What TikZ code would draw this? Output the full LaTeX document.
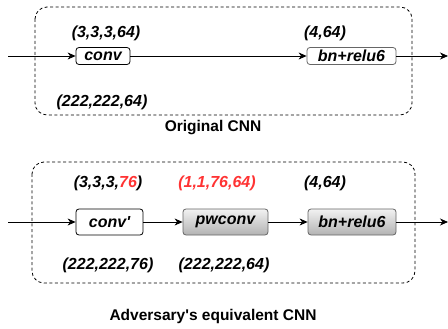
\documentclass[tikz,border=0pt]{standalone}
\usepackage{fontspec}
\setmainfont{Liberation Sans}
\usetikzlibrary{arrows.meta}
\definecolor{redlbl}{HTML}{FF3333}
\tikzset{
  lbl/.style={font=\fontsize{16}{18}\selectfont\bfseries\itshape, inner sep=0pt, anchor=center},
  ttl/.style={font=\fontsize{15.5}{18}\selectfont\bfseries, inner sep=0pt, anchor=center},
  wbox/.style={draw=black, line width=0.8pt, fill=white, rounded corners=3pt, inner sep=0pt,
    font=\fontsize{16}{18}\selectfont\bfseries\itshape},
  gbox/.style={draw=black!60, line width=0.8pt, rounded corners=3pt, inner sep=0pt,
    top color=black!5, bottom color=black!30,
    font=\fontsize{16}{18}\selectfont\bfseries\itshape},
  gwbox/.style={draw=black!60, line width=0.8pt, fill=white, rounded corners=3pt, inner sep=0pt,
    font=\fontsize{16}{18}\selectfont\bfseries\itshape},
  grp/.style={draw=black, line width=0.8pt, dash pattern=on 3pt off 2.5pt, rounded corners=12pt},
  arr/.style={line width=0.8pt, -{Stealth[length=8pt,width=7pt,inset=2.5pt]}},
}
\begin{document}
\begin{tikzpicture}[x=1pt,y=-1pt]
\useasboundingbox (0,0) rectangle (448,329);
% top group
\draw[grp] (35,7) rectangle (412,115);
\node[wbox, minimum width=54pt, minimum height=17pt] (conv) at (103,56) {conv};
\node[gwbox, minimum width=89pt, minimum height=17pt] (bn1) at (351.5,56) {bn+relu6};
\coordinate (in1) at (8,56);
\coordinate (out1) at (448,56);
\draw[arr] (in1) -- (conv);
\draw[arr] (conv) -- (bn1);
\draw[arr] (bn1) -- (out1);
\node[lbl] (l1) at (106,33) {(3,3,3,64)};
\node[lbl] (l2) at (325,33) {(4,64)};
\node[lbl] (l3) at (102,102) {(222,222,64)};
\node[ttl] (t1) at (213,128) {Original CNN};
% bottom group
\draw[grp] (32,162) rectangle (415,283);
\node[wbox, minimum width=67pt, minimum height=26pt] (convp) at (109.5,222) {conv\textquotesingle};
\node[gbox, minimum width=85pt, minimum height=26pt] (pw) at (225.5,222) {pwconv};
\node[gbox, minimum width=88pt, minimum height=26pt] (bn2) at (352,222) {bn+relu6};
\coordinate (in2) at (8,222);
\coordinate (out2) at (448,222);
\draw[arr] (in2) -- (convp);
\draw[arr] (convp) -- (pw);
\draw[arr] (pw) -- (bn2);
\draw[arr] (bn2) -- (out2);
\node[lbl] (m1) at (108,183) {(3,3,3,\textcolor{redlbl}{76})};
\node[lbl, text=redlbl] (m2) at (217,183) {(1,1,76,64)};
\node[lbl] (m3) at (325,183) {(4,64)};
\node[lbl] (m4) at (108,265) {(222,222,76)};
\node[lbl] (m5) at (224,265) {(222,222,64)};
\node[ttl] (t2) at (213,316) {Adversary\textquotesingle s equivalent CNN};
\end{tikzpicture}
\end{document}
